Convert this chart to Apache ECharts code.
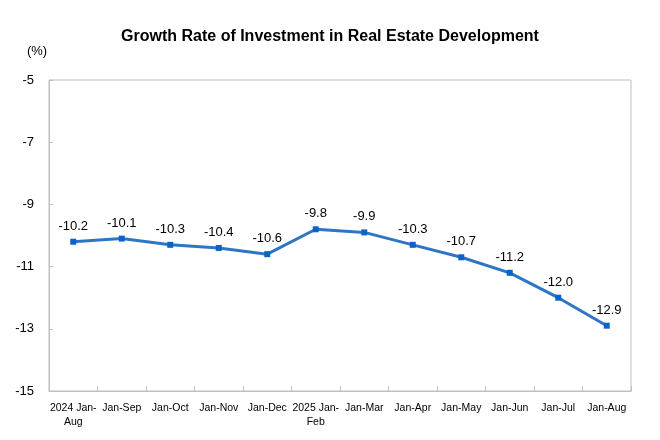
<!DOCTYPE html>
<html>
<head>
<meta charset="utf-8">
<script src="https://cdn.jsdelivr.net/npm/echarts@6/dist/echarts.min.js"></script>
<style>
  html, body { margin: 0; padding: 0; background: #fff; }
  #chart { width: 660px; height: 440px; }
</style>
</head>
<body>
<div id="chart"></div>
<script>
var categories = ['2024 Jan-Aug', 'Jan-Sep', 'Jan-Oct', 'Jan-Nov', 'Jan-Dec', '2025 Jan-Feb',
  'Jan-Mar', 'Jan-Apr', 'Jan-May', 'Jan-Jun', 'Jan-Jul', 'Jan-Aug'];
var growth = [-10.2, -10.1, -10.3, -10.4, -10.6, -9.8, -9.9, -10.3, -10.7, -11.2, -12.0, -12.9];
var yTicks = { min: -15, max: -5, step: 2 };

var chart = echarts.init(document.getElementById('chart'));
var font = '"Liberation Sans", Arial, sans-serif';
var option = {
  animation: false,
  title: {
    text: 'Growth Rate of Investment in Real Estate Development',
    left: 'center',
    top: 24,
    textStyle: { fontFamily: font, fontSize: 16, fontWeight: 'bold', color: '#000' }
  },
  grid: {
    left: 49, right: 29, top: 80, bottom: 49,
    show: true, borderColor: '#bfbfbf', borderWidth: 1
  },
  xAxis: {
    type: 'category',
    data: categories,
    boundaryGap: true,
    axisLine: { lineStyle: { color: '#bfbfbf' } },
    axisTick: { show: true, inside: true, length: 5, lineStyle: { color: '#bfbfbf' } },
    axisLabel: {
      interval: 0,
      margin: 10,
      fontFamily: font,
      fontSize: 10.5,
      color: '#000',
      lineHeight: 14,
      formatter: function (v) { return v.replace(/^(\d{4} Jan-)/, '$1\n'); }
    }
  },
  yAxis: {
    type: 'value',
    name: '(%)',
    nameLocation: 'end',
    nameGap: 22,
    nameTextStyle: { fontFamily: font, fontSize: 13, color: '#000', align: 'center', padding: [0, 0, 0, -24] },
    min: yTicks.min,
    max: yTicks.max,
    interval: yTicks.step,
    axisLine: { show: true, lineStyle: { color: '#bfbfbf' } },
    axisTick: { show: true, inside: true, length: 4, lineStyle: { color: '#bfbfbf' } },
    splitLine: { show: false },
    axisLabel: { margin: 15, fontFamily: font, fontSize: 13, color: '#000' }
  },
  series: [{
    type: 'line',
    data: growth,
    smooth: false,
    symbol: 'rect',
    symbolSize: 6,
    lineStyle: { color: '#2e75c6', width: 3 },
    itemStyle: { color: '#0a64c8' },
    label: {
      show: true,
      position: 'top',
      distance: 6,
      fontFamily: font,
      fontSize: 13,
      color: '#000',
      formatter: function (p) { return p.value.toFixed(1); }
    }
  }]
};
chart.setOption(option);
</script>
</body>
</html>
